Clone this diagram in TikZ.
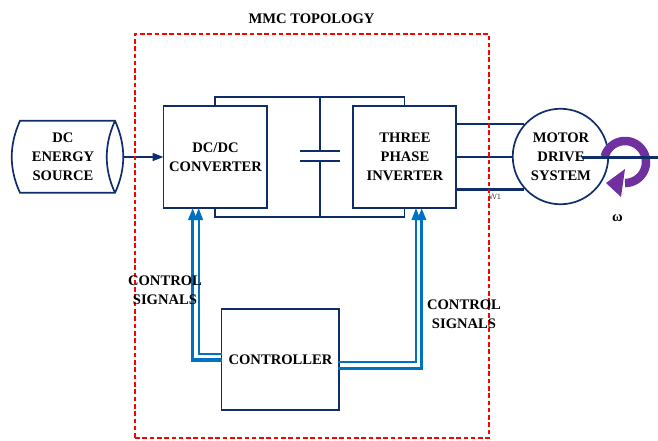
\documentclass[tikz,border=0pt]{standalone}
\usepackage{fontspec}
\setmainfont{Liberation Serif}
\usetikzlibrary{calc,arrows.meta}
\definecolor{navy}{HTML}{0F2D6B}
\definecolor{ctlblue}{HTML}{0070C0}
\definecolor{rotpurple}{HTML}{7030A0}
\tikzset{
  lbl/.style={font=\bfseries\fontsize{14.6}{18.9}\selectfont,align=center,text=black,inner sep=0pt},
  blk/.style={draw=navy,line width=1.7pt,fill=white,inner sep=0pt,outer sep=0pt},
  wire/.style={draw=navy,line width=1.6pt},
  heavy/.style={draw=navy,line width=2.8pt},
  thinctl/.style={draw=ctlblue,line width=2pt},
  thickctl/.style={draw=ctlblue,line width=3.2pt},
  tip/.style={-{Triangle[length=12pt,width=8.5pt]}}
}
\begin{document}
\begin{tikzpicture}[x=1pt,y=-1pt]
\useasboundingbox (0,0) rectangle (658,440);
\node[blk,minimum width=103.5pt,minimum height=102pt] (dcdc) at (215.25,157) {};
\node[blk,minimum width=103pt,minimum height=102pt] (inv) at (404.5,157) {};
\node[blk,minimum width=117.5pt,minimum height=101pt] (ctrl) at (280.25,359.5) {};
\coordinate (captop) at (320,151);
\coordinate (capbot) at (320,161);
\draw[wire] (dcdc.north) -- ++(0,-8.8) -| (inv.north);
\draw[wire] (dcdc.south) -- ++(0,9) -| (inv.south);
\draw[wire,line width=1.4pt] (320,97.2) -- (captop);
\draw[wire,line width=1.4pt] (capbot) -- (320,217);
\draw[wire,line width=1.9pt] ($(captop)+(-20,0)$) -- ($(captop)+(20,0)$);
\draw[wire,line width=1.9pt] ($(capbot)+(-20,0)$) -- ($(capbot)+(20,0)$);
% motor
\node[draw=navy,line width=1.7pt,fill=white,circle,minimum size=95.5pt,inner sep=0pt,outer sep=0pt] (motor) at (560.5,156.5) {};
\draw[wire] ($(inv.east)+(0,-33)$) -- ($(motor.center)+(-37,-32.5)$);
\draw[wire] ($(inv.east)+(0,-0.2)$) -- ($(motor.west)+(0,0.3)$);
\draw[heavy] ($(inv.east)+(0,32.3)$) -- ($(motor.center)+(-37,32.8)$);
% rotation arrow and shaft
\fill[rotpurple] (606,183) -- (625,169) -- (621,197) -- cycle;
\draw[rotpurple,line width=8.5pt,line cap=butt] plot[domain=195:450,samples=50] ({625+21*cos(\x)},{162+21*sin(\x)});
\coordinate (shaftend) at (658,157.3);
\draw[heavy,line width=3.4pt] (582,157.3) -- (shaftend);
% source
\coordinate (srcout) at (123,157);
\draw[draw=navy,line width=1.7pt,fill=white] (20,120.8) -- (115,120.8) .. controls (126,145) and (126,169) .. (115,192.8) -- (20,192.8) .. controls (9,169) and (9,145) .. (20,120.8) -- cycle;
\draw[draw=navy,line width=1.7pt] (115,120.8) .. controls (104,145) and (104,169) .. (115,192.8);
\draw[wire,tip,-{Triangle[length=11pt,width=8pt]}] (srcout) -- (dcdc.west);
% control signals
\draw[thickctl,tip] ($(ctrl.west)+(0,0.5)$) -| ($(dcdc.south)+(-22.6,0)$);
\draw[thinctl,tip] ($(ctrl.west)+(0,-5.8)$) -| ($(dcdc.south)+(-16.6,0)$);
\draw[thinctl,tip] ($(ctrl.east)+(-1.5,2.8)$) -| ($(inv.south)+(11.5,0)$);
\draw[thickctl,tip] ($(ctrl.east)+(-1.5,8.8)$) -| ($(inv.south)+(17.2,0)$);
% boundary
\node[draw=red,line width=2.6pt,dash pattern=on 4.6pt off 2.7pt,minimum width=354pt,minimum height=404pt,inner sep=0pt] (mmc) at (312,236) {};
% labels
\node[lbl] (t1) at (311.5,19) {MMC TOPOLOGY};
\node[lbl] (t2) at (63,157) {DC\\ENERGY\\SOURCE};
\node[lbl] (t3) at (215.5,157) {DC/DC\\CONVERTER};
\node[lbl] (t4) at (405,157) {THREE\\PHASE\\INVERTER};
\node[lbl] (t5) at (561,157) {MOTOR\\DRIVE\\SYSTEM};
\node[lbl] (t6) at (280.5,360) {CONTROLLER};
\node[lbl] (t7) at (165,290) {CONTROL\\SIGNALS};
\node[lbl] (t8) at (464,314.5) {CONTROL\\SIGNALS};
\node[lbl] (t9) at (617.5,218) {ω};
\node[font=\sffamily\fontsize{8}{9}\selectfont,text=black!70,inner sep=0pt] (t10) at (495,196.7) {W1};
\end{tikzpicture}
\end{document}
